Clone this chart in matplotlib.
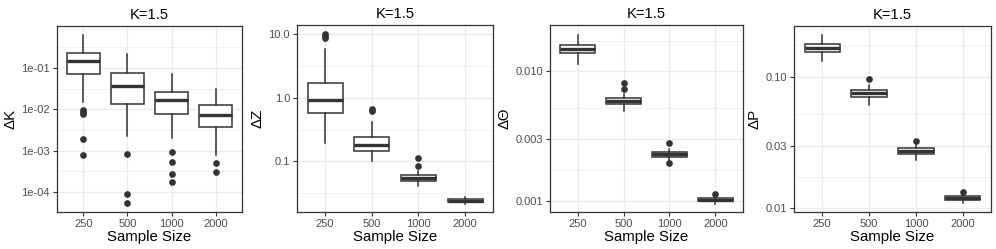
import matplotlib
matplotlib.use("Agg")
import matplotlib.pyplot as plt
import numpy as np
from matplotlib.ticker import FixedLocator, NullFormatter

plt.rcParams['font.family'] = ['Liberation Sans', 'DejaVu Sans']

sizes = ['250', '500', '1000', '2000']

# ΔK panel
k_whislo = [0.0155, 0.0023, 0.0021, 0.0008]
k_q1 = [0.073, 0.0138, 0.0077, 0.0038]
k_med = [0.15, 0.036, 0.017, 0.0074]
k_q3 = [0.23, 0.078, 0.027, 0.0132]
k_whishi = [0.65, 0.22, 0.073, 0.031]
k_fliers = [[0.0096, 0.0085, 0.0079, 0.0019, 0.0008],
            [0.00083, 9.2e-5, 5.4e-5],
            [0.00096, 0.00055, 0.00028, 0.00018],
            [0.00051, 0.00031]]

# ΔZ panel
z_whislo = [0.197, 0.101, 0.041, 0.0215]
z_q1 = [0.57, 0.144, 0.048, 0.0229]
z_med = [0.92, 0.183, 0.054, 0.024]
z_q3 = [1.68, 0.24, 0.061, 0.0251]
z_whishi = [5.8, 0.41, 0.070, 0.0273]
z_fliers = [[10.0, 9.4, 8.8], [0.66, 0.63], [0.114, 0.084], []]

# ΔΘ panel
t_whislo = [0.01153, 0.00496, 0.00207, 0.00095]
t_q1 = [0.0138, 0.00565, 0.00219, 0.00100]
t_med = [0.0149, 0.00596, 0.00229, 0.00102]
t_q3 = [0.0161, 0.00625, 0.00238, 0.00105]
t_whishi = [0.0191, 0.00664, 0.00253, 0.001067]
t_fliers = [[], [0.00817, 0.00738], [0.0028, 0.00196], [0.00113]]

# ΔP panel
p_whislo = [0.131, 0.0614, 0.0235, 0.01104]
p_q1 = [0.153, 0.0707, 0.0259, 0.0116]
p_med = [0.165, 0.0752, 0.0272, 0.01197]
p_q3 = [0.177, 0.0798, 0.0285, 0.0124]
p_whishi = [0.208, 0.087, 0.0302, 0.0126]
p_fliers = [[], [0.0966], [0.0327], [0.01336]]

panels = [
    ('ΔK', k_whislo, k_q1, k_med, k_q3, k_whishi, k_fliers,
     [1e-4, 1e-3, 1e-2, 1e-1], ['1e-04', '1e-03', '1e-02', '1e-01'], (10**-4.48, 10**0.02)),
    ('ΔZ', z_whislo, z_q1, z_med, z_q3, z_whishi, z_fliers,
     [0.1, 1.0, 10.0], ['0.1', '1.0', '10.0'], (10**-1.8, 10**1.147)),
    ('ΔΘ', t_whislo, t_q1, t_med, t_q3, t_whishi, t_fliers,
     [0.001, 0.003, 0.010], ['0.001', '0.003', '0.010'], (10**-3.088, 10**-1.64)),
    ('ΔP', p_whislo, p_q1, p_med, p_q3, p_whishi, p_fliers,
     [0.01, 0.03, 0.10], ['0.01', '0.03', '0.10'], (10**-2.028, 10**-0.614)),
]

# axes boxes in pixels: left, right, top, bottom
W, H = 996, 249
boxes = [(57, 242, 26, 212), (297, 493, 25, 212), (550, 743, 25, 212), (794, 991, 26, 212)]

dark = '#333333'
grid_c = '#EBEBEB'

fig = plt.figure(figsize=(W / 100, H / 100), dpi=100)

for (ylab, wlo, q1, med, q3, whi, fl, yt, ytl, ylim), (l, r, t, b) in zip(panels, boxes):
    ax = fig.add_axes([l / W, 1 - b / H, (r - l) / W, (b - t) / H])
    stats = []
    for i in range(len(sizes)):
        stats.append(dict(whislo=wlo[i], q1=q1[i], med=med[i], q3=q3[i],
                          whishi=whi[i], fliers=fl[i]))
    ax.set_yscale('log')
    ax.bxp(stats, positions=np.arange(1, 5), widths=0.75, showcaps=False,
           patch_artist=True,
           boxprops=dict(facecolor='white', edgecolor=dark, linewidth=1.1),
           whiskerprops=dict(color=dark, linewidth=1.1),
           medianprops=dict(color=dark, linewidth=2.4),
           flierprops=dict(marker='o', markerfacecolor=dark, markeredgecolor=dark,
                           markersize=3.8))
    ax.set_xlim(0.4, 4.6)
    ax.set_ylim(*ylim)
    ax.set_xticks(np.arange(1, 5))
    ax.set_xticklabels(sizes)
    ax.yaxis.set_major_locator(FixedLocator(yt))
    ax.set_yticklabels(ytl)
    ly = np.log10(yt)
    step = ly[1] - ly[0]
    mids = [10 ** (v + step / 2) for v in np.concatenate([[ly[0] - step], ly])]
    ax.yaxis.set_minor_locator(FixedLocator(mids))
    ax.yaxis.set_minor_formatter(NullFormatter())
    ax.tick_params(axis='y', which='minor', length=0)
    ax.grid(True, which='major', color=grid_c, linewidth=1.0)
    ax.grid(True, which='minor', axis='y', color=grid_c, linewidth=0.5)
    ax.set_axisbelow(True)
    ax.tick_params(which='major', length=3, width=0.8, color=dark,
                   labelsize=8.0, labelcolor='#4D4D4D', pad=2)
    for s in ax.spines.values():
        s.set_color(dark)
        s.set_linewidth(0.9)
    ax.set_xlabel('Sample Size', fontsize=10.8, color='black', labelpad=1)
    ax.set_ylabel(ylab, fontsize=10.8, color='black', labelpad=3)
    ax.set_title('K=1.5', fontsize=10.6, color='black', pad=5)

fig.savefig('out.png', dpi=100)
